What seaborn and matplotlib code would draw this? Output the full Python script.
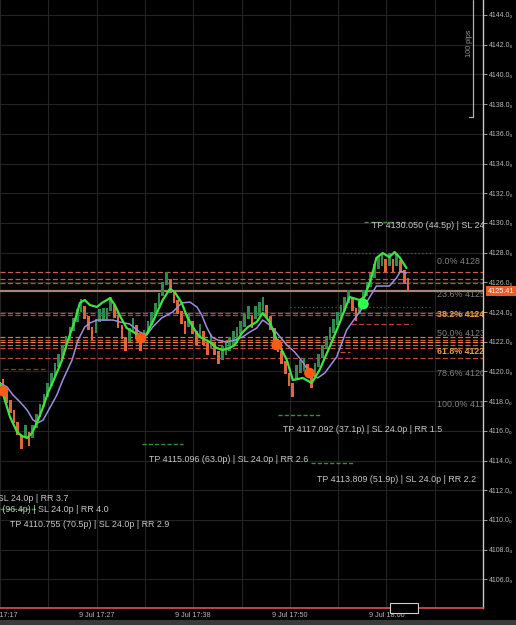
import matplotlib
matplotlib.use("Agg")
import matplotlib.pyplot as plt
import seaborn as sns
import pandas as pd
import numpy as np
from matplotlib.patches import Rectangle

# ---------------- data ----------------
brick_open = [4119.5, 4118.8, 4118.1, 4117.4, 4116.6, 4115.7, 4115.5, 4115.9, 4115.5, 4116.2,
              4116.9, 4117.6, 4118.3, 4119.0, 4119.7, 4120.3, 4120.9, 4121.5, 4122.1, 4122.7,
              4123.3, 4124.0, 4124.4, 4123.7, 4123.0, 4122.6, 4123.3, 4123.4, 4123.4, 4124.1,
              4124.5, 4123.8, 4123.1, 4122.3, 4122.0, 4122.7, 4123.1, 4122.3, 4121.9, 4122.5,
              4123.1, 4123.7, 4124.4, 4125.1, 4125.8, 4126.2, 4125.5, 4124.8, 4124.1, 4123.4,
              4123.0, 4123.4, 4122.7, 4122.3, 4122.7, 4122.0, 4121.6, 4122.0, 4121.4, 4120.8,
              4121.1, 4121.4, 4121.8, 4122.1, 4122.5, 4123.0, 4123.5, 4123.8, 4123.5, 4123.8,
              4124.1, 4124.5, 4123.7, 4122.9, 4122.2, 4121.4, 4120.7, 4119.9, 4119.2, 4119.5,
              4119.9, 4120.0, 4120.5, 4119.8, 4119.7, 4120.3, 4120.9, 4121.5, 4122.1, 4122.6,
              4123.1, 4123.6, 4124.1, 4124.6, 4125.0, 4124.3, 4123.9, 4124.6, 4125.1, 4125.7,
              4126.3, 4126.9, 4127.1, 4127.6, 4127.1, 4127.6, 4127.1, 4127.5, 4126.8, 4126.3]
brick_close = [4118.6, 4117.9, 4117.2, 4116.5, 4115.7, 4114.8, 4116.4, 4115.0, 4116.4, 4117.1,
               4117.8, 4118.5, 4119.2, 4119.9, 4120.6, 4121.2, 4121.8, 4122.4, 4123.0, 4123.6,
               4124.2, 4124.9, 4123.5, 4122.8, 4122.1, 4123.5, 4124.2, 4124.3, 4124.3, 4125.0,
               4123.6, 4122.9, 4122.2, 4121.4, 4122.9, 4123.6, 4122.2, 4121.4, 4122.8, 4123.4,
               4124.0, 4124.6, 4125.3, 4126.0, 4126.7, 4125.3, 4124.6, 4123.9, 4123.2, 4122.5,
               4123.9, 4122.5, 4121.8, 4123.2, 4121.8, 4121.1, 4122.5, 4121.1, 4120.5, 4121.7,
               4122.0, 4122.3, 4122.7, 4123.0, 4123.4, 4123.9, 4124.4, 4122.9, 4124.4, 4124.7,
               4125.0, 4123.6, 4122.8, 4122.0, 4121.3, 4120.5, 4119.8, 4119.0, 4118.3, 4120.4,
               4120.8, 4120.9, 4119.6, 4118.9, 4120.6, 4121.2, 4121.8, 4122.4, 4123.0, 4123.5,
               4124.0, 4124.5, 4125.0, 4125.5, 4124.1, 4123.4, 4124.8, 4125.5, 4126.0, 4126.6,
               4127.2, 4127.8, 4128.0, 4126.7, 4128.0, 4126.7, 4128.0, 4126.6, 4125.9, 4125.41]

fast_x = [0, 1.3, 2.7, 4.6, 5.9, 7.3, 8.6, 9.9, 11.3, 12.9, 14.8, 16.7, 18.3, 20.2, 21.5, 22.8,
          24.2, 26.1, 27.4, 28.8, 29.6, 30.9, 32.3, 34.1, 36.8, 39.0, 41.1, 43.8, 45.7, 47.0,
          48.9, 50.5, 52.4, 53.8, 56.5, 58.3, 59.9, 61.8, 63.2, 65.1, 66.7, 69.1, 70.7, 72.6,
          74.5, 77.2, 78.8, 81.5, 83.9, 86.0, 88.7, 91.4, 94.1, 96.8, 98.1, 100.0, 101.3, 103.0,
          104.8, 106.2, 107.5, 109.4]
fast_ma = [4119.22, 4118.07, 4116.93, 4115.92, 4115.65, 4115.52, 4115.85, 4116.53, 4117.40,
           4118.55, 4119.62, 4120.77, 4122.11, 4123.46, 4124.61, 4124.81, 4124.47, 4124.34,
           4124.61, 4124.81, 4124.94, 4124.47, 4123.73, 4122.92, 4122.52, 4122.32, 4123.33,
           4124.81, 4125.55, 4125.35, 4124.61, 4123.60, 4122.79, 4122.32, 4121.98, 4121.58,
           4121.44, 4121.58, 4121.78, 4122.59, 4122.99, 4123.33, 4123.93, 4123.33, 4122.11,
           4120.77, 4119.42, 4119.56, 4119.22, 4120.09, 4121.64, 4123.26, 4125.01, 4124.81,
           4125.01, 4126.36, 4127.64, 4127.97, 4127.70, 4128.04, 4127.70, 4126.96]

slow_x = [0, 1.9, 3.5, 5.4, 7.3, 8.9, 10.2, 11.6, 13.4, 15.3, 16.9, 19.4, 21.0, 22.8, 24.2, 26.1,
          30.4, 32.3, 34.9, 37.6, 39.5, 41.1, 43.5, 46.5, 48.9, 51.1, 53.0, 54.3, 55.6, 57.0,
          58.6, 61.0, 63.2, 65.3, 67.2, 69.1, 70.7, 72.6, 74.5, 77.2, 79.3, 81.5, 83.3, 85.5,
          87.4, 90.6, 93.3, 96.0, 98.7, 101.3, 104.8, 106.7, 107.8, 109.4]
slow_ma = [4119.22, 4118.95, 4118.41, 4117.94, 4117.40, 4116.73, 4116.53, 4116.73, 4117.54,
           4118.41, 4119.42, 4120.77, 4122.11, 4122.99, 4123.26, 4123.46, 4123.46, 4123.33,
           4123.19, 4122.65, 4122.45, 4122.99, 4123.60, 4124.00, 4124.61, 4124.67, 4124.34,
           4123.80, 4122.99, 4122.32, 4122.11, 4121.98, 4122.11, 4122.32, 4122.65, 4122.92,
           4123.46, 4123.12, 4122.59, 4121.78, 4121.31, 4120.63, 4119.89, 4119.56, 4119.89,
           4120.97, 4122.79, 4123.73, 4124.67, 4125.75, 4125.75, 4126.29, 4126.76, 4126.63]

signal_x = [0.8, 37.9, 74.5, 83.3, 97.8]
signal_y = [4118.68, 4122.25, 4121.78, 4119.89, 4124.54]
signal_kind = ["sell", "sell", "sell", "sell", "buy"]

level_price = [4126.69, 4126.22, 4125.95, 4123.93, 4123.80, 4122.32, 4122.11,
               4121.98, 4121.78, 4121.58, 4120.90]
level_color = ["#c8604c", "#c05a48", "#b85446", "#c04a40", "#b04238", "#e0703c", "#d05838",
               "#e87a40", "#d06040", "#c85038", "#b84a3c"]

seg_price = [4123.19, 4121.31, 4120.16]
seg_start = [94.6, 91.4, 0.8]
seg_end = [110.8, 94.1, 12.1]
seg_color = ["#b83a3a", "#c04a3a", "#7a4636"]

dot_price = [4127.97, 4124.34]
dot_start = [92.2, 78.0]
dot_end = [116.4, 116.4]

current_price = 4125.41

tp_price = [4130.050, 4117.092, 4115.096, 4113.809, 4110.755]
tp_start = [98.1, 74.7, 38.2, 83.6, 0.0]
tp_end = [109.4, 86.0, 49.2, 94.9, 10.0]

tp_text = ["TP 4130.050 (44.5p) | SL 24.0p | RR 1.9",
           "TP 4117.092 (37.1p) | SL 24.0p | RR 1.5",
           "TP 4115.096 (63.0p) | SL 24.0p | RR 2.6",
           "TP 4113.809 (51.9p) | SL 24.0p | RR 2.2",
           "TP 4110.755 (70.5p) | SL 24.0p | RR 2.9",
           "TP 4112.420 (88.8p) | SL 24.0p | RR 3.7",
           "TP 4111.650 (96.4p) | SL 24.0p | RR 4.0"]
tp_text_x = [100.0, 76.3, 40.1, 85.2, 2.7, 18.3, 29.3]
tp_text_y = [4129.85, 4116.12, 4114.10, 4112.75, 4109.72, 4111.47, 4110.73]
tp_text_anchor = ["left", "left", "left", "left", "left", "right", "right"]

fib_text = ["0.0% 4128", "23.6% 4125", "38.2% 4124", "50.0% 4123",
            "61.8% 4122", "78.6% 4120", "100.0% 4118"]
fib_y = [4127.37, 4125.15, 4123.80, 4122.52, 4121.37, 4119.89, 4117.80]
fib_key = [False, False, True, False, True, False, False]
fib_x = 117.7

time_idx = [0, 26, 52, 78, 104]
time_labels = ["9 Jul 17:17", "9 Jul 17:27", "9 Jul 17:38", "9 Jul 17:50", "9 Jul 18:00"]
price_ticks = list(range(4106, 4146, 2))

ruler_x = 127.4
ruler_foot = 126.3
ruler_top = 4145.0
ruler_bottom = 4137.13

# ---------------- style ----------------
sns.set_theme(style="dark")
plt.rcParams["font.family"] = ["Liberation Sans", "DejaVu Sans"]

W, H = 516, 625
fig = plt.figure(figsize=(W / 100, H / 100), dpi=100, facecolor="black")
ax = fig.add_axes([0, 17 / H, 483 / W, 608 / H])
ax.set_facecolor("black")

XMAX = 483 / 3.72
ax.set_xlim(0, XMAX)
ax.set_ylim(4104.07, 4145.01)

# grid
ax.set_xticks(np.arange(0, 131, 13))
ax.set_yticks(price_ticks)
ax.grid(True, which="major", color="#242424", lw=0.8)
ax.set_axisbelow(True)

# levels
for p, c in zip(level_price, level_color):
    ax.axhline(p, color=c, lw=0.9, ls=(0, (4, 2)), zorder=1)
for p, s, e, c in zip(seg_price, seg_start, seg_end, seg_color):
    ax.plot([s, e], [p, p], color=c, lw=0.9, ls=(0, (4, 2)), zorder=1)
for p, s, e in zip(dot_price, dot_start, dot_end):
    ax.plot([s, e], [p, p], color="#555555", lw=0.9, ls=(0, (1, 2)), zorder=1)
ax.axhline(current_price, color="#a8866e", lw=1.6, zorder=1)

# TP lines
for p, s, e in zip(tp_price, tp_start, tp_end):
    ax.plot([s, e], [p, p], color="#3c8c3c", lw=1.0, ls=(0, (3, 1.5)), zorder=2)

# bricks
bricks = pd.DataFrame({"idx": np.arange(len(brick_open)), "open": brick_open, "close": brick_close})
bricks["up"] = bricks["close"] > bricks["open"]
ax.bar(bricks["idx"] + 0.8, bricks["close"] - bricks["open"], bottom=bricks["open"],
       width=0.72, color=np.where(bricks["up"], "#2f8a4c", "#e0653e"), linewidth=0, zorder=3)

# moving averages
sns.lineplot(x=slow_x, y=slow_ma, ax=ax, color="#9b8fe0", lw=1.1, sort=False,
             estimator=None, zorder=4)
sns.lineplot(x=fast_x, y=fast_ma, ax=ax, color="#3ee43e", lw=1.6, sort=False,
             estimator=None, zorder=5)

# signals
sig = pd.DataFrame({"x": signal_x, "y": signal_y, "kind": signal_kind})
sns.scatterplot(data=sig, x="x", y="y", hue="kind",
                palette={"sell": "#ff5a14", "buy": "#30ff50"}, s=60, marker="o",
                linewidth=0, legend=False, ax=ax, zorder=6)

# TP text
for t, x, y, a in zip(tp_text, tp_text_x, tp_text_y, tp_text_anchor):
    ax.text(x, y, t, color="#c8c8c8", fontsize=6.4, ha=a, va="center", clip_on=True, zorder=7)

# fib labels
for t, y, k in zip(fib_text, fib_y, fib_key):
    ax.text(fib_x, y, t, color="#e0a040" if k else "#808080", fontsize=6.4,
            fontweight="bold" if k else "normal", ha="left", va="center", clip_on=True, zorder=7)

# ruler
ax.plot([ruler_x, ruler_x], [ruler_top, ruler_bottom], color="#b0b0b0", lw=0.9, zorder=7)
ax.plot([ruler_foot, ruler_x], [ruler_bottom, ruler_bottom], color="#b0b0b0", lw=0.9, zorder=7)
ax.text(ruler_foot, 4142.1, "100 pips", rotation=90, color="#9a9a9a", fontsize=5.2,
        ha="center", va="center", zorder=7)

# axes decoration
ax.yaxis.tick_right()
ax.set_yticklabels([f"{v:.1f}\u2080" for v in price_ticks], color="#b8b8b8", fontsize=5)
ax.tick_params(axis="y", colors="#b8b8b8", length=3, width=0.6, pad=1, direction="out")
xt = np.arange(0, 131, 13)
ax.set_xticklabels([time_labels[time_idx.index(v)] if v in time_idx else "" for v in xt],
                   color="#b8b8b8", fontsize=5.2)
ax.tick_params(axis="x", colors="#b8b8b8", length=0, pad=3)
ax.set_xlabel("")
ax.set_ylabel("")
for s in ["top", "left"]:
    ax.spines[s].set_visible(False)
ax.spines["right"].set_color("#c8c8c8")
ax.spines["right"].set_linewidth(1.0)
ax.spines["bottom"].set_color("#e05050")
ax.spines["bottom"].set_linestyle((0, (2, 1)))
ax.spines["bottom"].set_linewidth(1.2)

# current price tag
ax.annotate(f"{current_price:.2f}", xy=(1.01, current_price), xycoords=("axes fraction", "data"),
            color="white", fontsize=5.2, ha="left", va="center", annotation_clip=False,
            bbox=dict(boxstyle="square,pad=0.25", fc="#ec5a26", ec="none"))

# scroll widget and bottom strip
fig.patches.append(Rectangle((390 / W, (H - 613) / H), 28 / W, 10 / H, transform=fig.transFigure,
                             fc="black", ec="#d0d0d0", lw=0.8, zorder=10))
fig.patches.append(Rectangle((0, 0), 1, 5 / H, transform=fig.transFigure, fc="#3a3a3a",
                             ec="none", zorder=10))

fig.savefig("out.png", dpi=100, facecolor="black")
